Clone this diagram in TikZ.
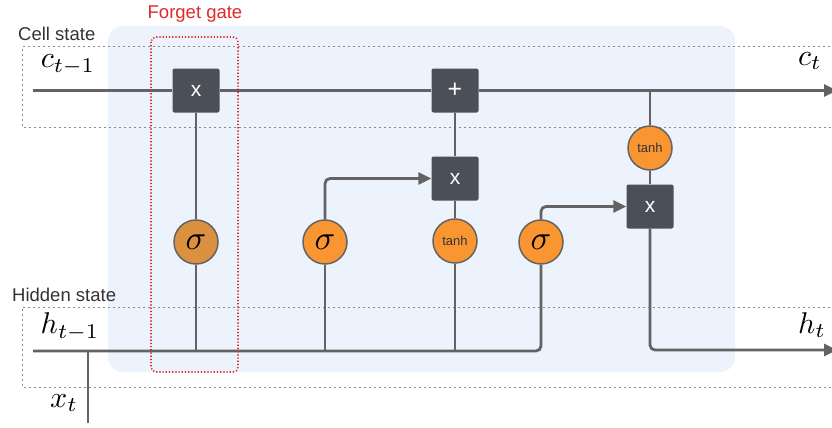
\documentclass[tikz,border=0pt]{standalone}
\usepackage{graphicx}
\usepackage{fontspec}
\setmainfont{Liberation Sans}
\usetikzlibrary{arrows.meta}
\definecolor{panel}{HTML}{ECF3FC}
\definecolor{wiregray}{HTML}{636363}
\definecolor{boxgray}{HTML}{4A4F58}
\definecolor{actorange}{HTML}{FA9632}
\definecolor{actdim}{HTML}{DC9141}
\definecolor{dotgray}{HTML}{8A8A8A}
\definecolor{gatered}{HTML}{E0282A}
\definecolor{labelgray}{HTML}{333333}
% math set at 10pt and enlarged
\newcommand{\scalemath}[2]{\scalebox{#1}{$#2$}}
\tikzset{
  wire/.style={draw=wiregray, line width=2.8pt},
  flow/.style={wire, rounded corners=5pt, -{Triangle[length=13pt,width=12pt]}},
  opbox/.style={fill=boxgray, rounded corners=2pt, minimum width=47pt, minimum height=44pt,
    inner sep=0pt, text=white, font=\fontsize{21}{21}\selectfont},
  act/.style={circle, draw=wiregray, line width=1.5pt, fill=actorange, minimum size=44pt,
    inner sep=0pt, text=labelgray},
  sig/.style={act, text=black},
  tanhnode/.style={act, font=\fontsize{13}{13}\selectfont},
  statebox/.style={draw=dotgray, line width=1pt, dash pattern=on 2pt off 3pt},
  caption/.style={text=labelgray, inner sep=0pt, font=\fontsize{18.5}{18.5}\selectfont},
  mathlabel/.style={inner sep=0pt},
}
\begin{document}
\begin{tikzpicture}[x=1pt, y=-1pt]
  \useasboundingbox (0,0) rectangle (832,428);
  \clip (0,0) rectangle (832,428);

  % cell panel and the two state bands
  \fill[panel, rounded corners=15pt] (108,26) rectangle (735,372);
  \draw[statebox] (850,47) -- (22,47) -- (22,127) -- (850,127);
  \draw[statebox] (850,307) -- (22,307) -- (22,387) -- (850,387);

  \node[caption, anchor=west] (cellcap) at (18,34) {Cell state};
  \node[caption, anchor=west] (hidcap) at (12,295) {Hidden state};
  \node[caption, text=gatered] (fgcap) at (195,14) {Forget gate};

  % operator boxes
  \node[opbox] (g1) at (196,90.5) {x};
  \node[opbox, font=\fontsize{25}{25}\selectfont] (add) at (455,90.5) {+};
  \node[opbox] (m2) at (455,178.5) {x};
  \node[opbox] (m3) at (650,206.5) {x};

  % activations
  \node[sig, fill=actdim] (s1) at (196,242) {\scalemath{3.4}{\sigma}};
  \node[sig] (s2) at (325,242) {\scalemath{3.4}{\sigma}};
  \node[tanhnode] (t1) at (455,241) {tanh};
  \node[sig] (s3) at (541,242) {\scalemath{3.4}{\sigma}};
  \node[tanhnode] (t2) at (650,148) {tanh};

  % free ends
  \coordinate (cin) at (33,90.5);
  \coordinate (cout) at (837,90.5);
  \coordinate (hin) at (33,351);
  \coordinate (hout) at (837,350);
  \coordinate (xin) at (88,423);

  % cell state line
  \draw[wire] (cin) -- (g1.west);
  \draw[wire] (g1.east) -- (add.west);
  \draw[flow] (add.east) -- (cout);

  % hidden state input and its branches
  \draw[wire, rounded corners=5pt] (hin) -| (s3.south);
  \draw[wire] (xin) -- (xin |- hin);
  \draw[wire] (s1.south) -- (s1.south |- hin);
  \draw[wire] (s2.south) -- (s2.south |- hin);
  \draw[wire] (t1.south) -- (t1.south |- hin);

  % gate connections
  \draw[wire] (s1.north) -- (g1.south);
  \draw[flow] (s2.north) |- (m2.west);
  \draw[wire] (t1.north) -- (m2.south);
  \draw[wire] (m2.north) -- (add.south);
  \draw[flow] (s3.north) |- (m3.west);
  \draw[wire] (t2.north) -- (t2.north |- cin);
  \draw[wire] (t2.south) -- (m3.north);
  \draw[flow] (m3.south) |- (hout);

  % state labels
  \node[mathlabel] (lcprev) at (68,65) {\scalemath{3}{c_{t-1}}};
  \node[mathlabel] (lcnext) at (810,61) {\scalemath{3}{c_t}};
  \node[mathlabel] (lhprev) at (70,327) {\scalemath{3}{h_{t-1}}};
  \node[mathlabel] (lhnext) at (812,325) {\scalemath{3}{h_t}};
  \node[mathlabel] (lx) at (64,403) {\scalemath{3}{x_t}};

  % forget gate outline
  \draw[gatered, line width=1.6pt, dash pattern=on 1.2pt off 2pt, rounded corners=5pt]
    (151,37) rectangle (238,372);
\end{tikzpicture}
\end{document}
